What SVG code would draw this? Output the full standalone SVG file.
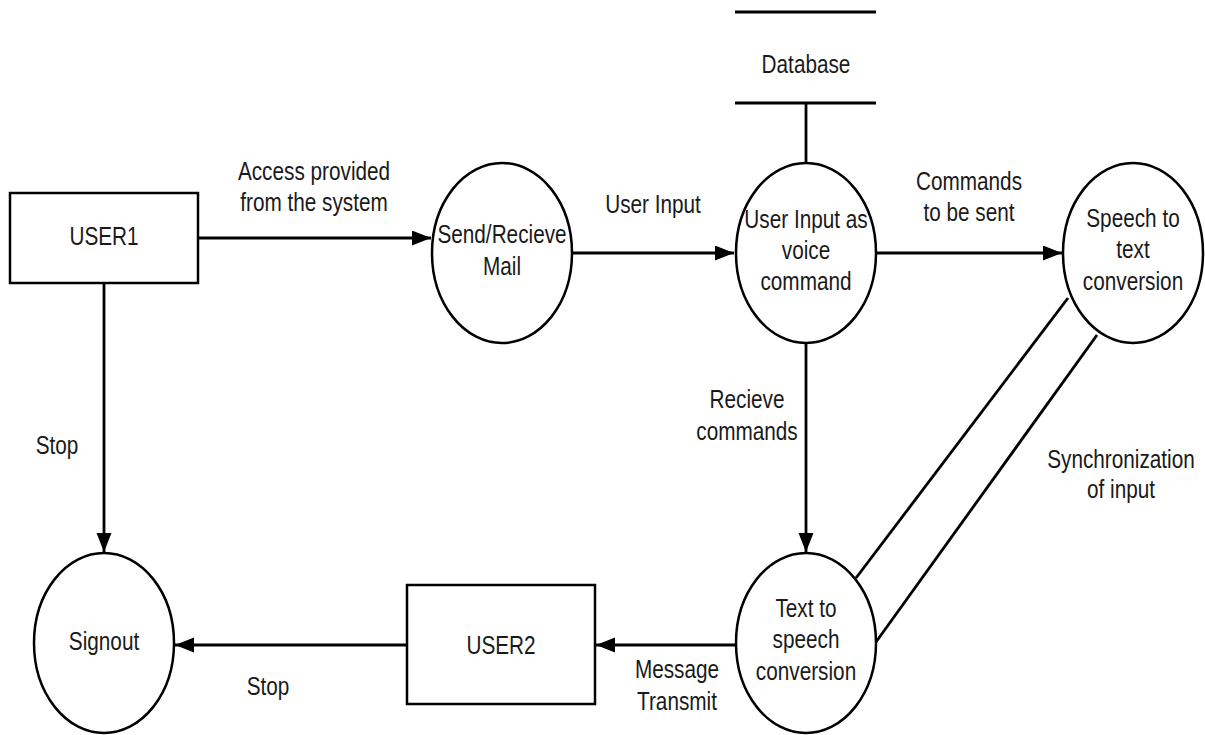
<svg xmlns="http://www.w3.org/2000/svg" width="1205" height="735" viewBox="0 0 1205 735">
<style>
.shape{fill:#fff;stroke:#000;stroke-width:2.5}
.ln{fill:none;stroke:#000;stroke-width:2.8}
text{font-family:"Liberation Sans",Arial,sans-serif;font-size:25px;fill:#1a1a1a;text-anchor:middle}
</style>
<defs>
<marker id="ah" markerUnits="userSpaceOnUse" markerWidth="20" markerHeight="16" refX="19" refY="7.5" orient="auto">
<path d="M0,0 L19,7.5 L0,15 z" fill="#000"/>
</marker>
</defs>
<rect width="1205" height="735" fill="#fff"/>
<g id="connectors">
<line class="ln" x1="198" y1="238" x2="431" y2="238" marker-end="url(#ah)"/>
<line class="ln" x1="572" y1="253" x2="734" y2="253" marker-end="url(#ah)"/>
<line class="ln" x1="876" y1="253" x2="1062" y2="253" marker-end="url(#ah)"/>
<line class="ln" x1="806" y1="343" x2="806" y2="552" marker-end="url(#ah)"/>
<line class="ln" x1="735" y1="645" x2="596" y2="645" marker-end="url(#ah)"/>
<line class="ln" x1="407" y1="645" x2="175" y2="645" marker-end="url(#ah)"/>
<line class="ln" x1="104" y1="283" x2="104" y2="552" marker-end="url(#ah)"/>
<line class="ln" x1="806" y1="103" x2="806" y2="163"/>
<line class="ln" x1="1068" y1="298" x2="856" y2="578"/>
<line class="ln" x1="1097" y1="335" x2="876" y2="642"/>
<text transform="translate(314,180) scale(0.83,1)">Access provided</text>
<text transform="translate(314,211) scale(0.83,1)">from the system</text>
<text transform="translate(653,213) scale(0.83,1)">User Input</text>
<text transform="translate(969,190) scale(0.83,1)">Commands</text>
<text transform="translate(969,221) scale(0.83,1)">to be sent</text>
<text transform="translate(747,408) scale(0.83,1)">Recieve</text>
<text transform="translate(747,440) scale(0.83,1)">commands</text>
<text transform="translate(1121,468) scale(0.83,1)">Synchronization</text>
<text transform="translate(1121,498) scale(0.83,1)">of input</text>
<text transform="translate(677,678) scale(0.83,1)">Message</text>
<text transform="translate(677,710) scale(0.83,1)">Transmit</text>
<text transform="translate(57,454) scale(0.83,1)">Stop</text>
<text transform="translate(268,695) scale(0.83,1)">Stop</text>
</g>
<g id="database">
<line class="ln" x1="735" y1="12" x2="876" y2="12"/>
<line class="ln" x1="735" y1="103" x2="876" y2="103"/>
<text transform="translate(806,73) scale(0.83,1)">Database</text>
</g>
<g id="user1">
<rect class="shape" x="10" y="193" width="188" height="90"/>
<text transform="translate(104,245) scale(0.83,1)">USER1</text>
</g>
<g id="send-recieve-mail">
<ellipse class="shape" cx="502" cy="253" rx="70" ry="90"/>
<text transform="translate(502,243) scale(0.83,1)">Send/Recieve</text>
<text transform="translate(502,275) scale(0.83,1)">Mail</text>
</g>
<g id="user-input-voice">
<ellipse class="shape" cx="806" cy="253" rx="70" ry="90"/>
<text transform="translate(806,228) scale(0.83,1)">User Input as</text>
<text transform="translate(806,259) scale(0.83,1)">voice</text>
<text transform="translate(806,290) scale(0.83,1)">command</text>
</g>
<g id="speech-to-text">
<ellipse class="shape" cx="1133" cy="253" rx="70" ry="90"/>
<text transform="translate(1133,227) scale(0.83,1)">Speech to</text>
<text transform="translate(1133,258) scale(0.83,1)">text</text>
<text transform="translate(1133,290) scale(0.83,1)">conversion</text>
</g>
<g id="text-to-speech">
<ellipse class="shape" cx="806" cy="643" rx="70" ry="90"/>
<text transform="translate(806,617) scale(0.83,1)">Text to</text>
<text transform="translate(806,648) scale(0.83,1)">speech</text>
<text transform="translate(806,680) scale(0.83,1)">conversion</text>
</g>
<g id="user2">
<rect class="shape" x="407" y="585" width="188" height="119"/>
<text transform="translate(501,654) scale(0.83,1)">USER2</text>
</g>
<g id="signout">
<ellipse class="shape" cx="104" cy="643" rx="70" ry="90"/>
<text transform="translate(104,650) scale(0.83,1)">Signout</text>
</g>
</svg>
